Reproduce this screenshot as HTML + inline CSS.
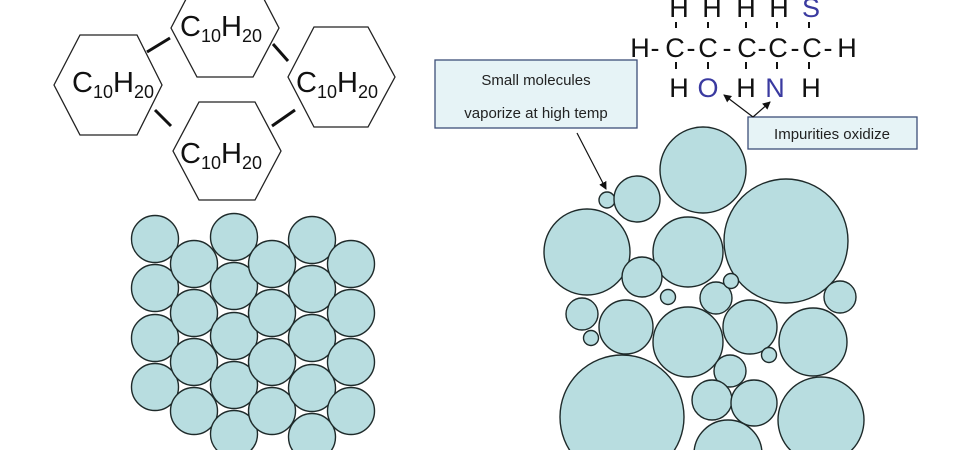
<!DOCTYPE html>
<html><head><meta charset="utf-8"><style>
html,body{margin:0;padding:0;background:#fff;width:980px;height:450px;overflow:hidden;}
svg{display:block;}
text{font-family:"Liberation Sans",sans-serif;}
</style></head><body>
<svg width="980" height="450" viewBox="0 0 980 450" xmlns="http://www.w3.org/2000/svg" style="overflow:hidden">
<defs>
<marker id="ah" markerWidth="8" markerHeight="8" refX="7" refY="4" orient="auto" markerUnits="userSpaceOnUse">
<path d="M0,0 L8,4 L0,8 z" fill="#111"/></marker>
</defs>
<g fill="#fff" stroke="#222" stroke-width="1.3">
<polygon points="54,85 80,35 137,35 162,85 137,135 80,135"/>
<polygon points="171,28 197,-22 253,-22 279,28 253,77 197,77"/>
<polygon points="288,77 314,27 368,27 395,77 368,127 314,127"/>
<polygon points="173,151 199,102 255,102 281,151 255,200 199,200"/>
</g>
<g stroke="#111" stroke-width="3">
<line x1="147" y1="52" x2="170" y2="38"/>
<line x1="273" y1="44" x2="288" y2="61"/>
<line x1="155" y1="110" x2="171" y2="126"/>
<line x1="272" y1="126" x2="295" y2="110"/>
</g>
<g fill="#111" font-size="29">
<text x="72" y="92">C<tspan font-size="18" dy="6">10</tspan><tspan dy="-6">H</tspan><tspan font-size="18" dy="6">20</tspan></text>
<text x="180" y="36">C<tspan font-size="18" dy="6">10</tspan><tspan dy="-6">H</tspan><tspan font-size="18" dy="6">20</tspan></text>
<text x="296" y="92">C<tspan font-size="18" dy="6">10</tspan><tspan dy="-6">H</tspan><tspan font-size="18" dy="6">20</tspan></text>
<text x="180" y="163">C<tspan font-size="18" dy="6">10</tspan><tspan dy="-6">H</tspan><tspan font-size="18" dy="6">20</tspan></text>
</g>
<g fill="#b8dde0" stroke="#1e2a2a" stroke-width="1.4">
<circle cx="155" cy="239" r="23.5"/><circle cx="155" cy="288" r="23.5"/><circle cx="155" cy="338" r="23.5"/><circle cx="155" cy="387" r="23.5"/>
<circle cx="194" cy="264" r="23.5"/><circle cx="194" cy="313" r="23.5"/><circle cx="194" cy="362" r="23.5"/><circle cx="194" cy="411" r="23.5"/>
<circle cx="234" cy="237" r="23.5"/><circle cx="234" cy="286" r="23.5"/><circle cx="234" cy="336" r="23.5"/><circle cx="234" cy="385" r="23.5"/><circle cx="234" cy="434" r="23.5"/>
<circle cx="272" cy="264" r="23.5"/><circle cx="272" cy="313" r="23.5"/><circle cx="272" cy="362" r="23.5"/><circle cx="272" cy="411" r="23.5"/>
<circle cx="312" cy="240" r="23.5"/><circle cx="312" cy="289" r="23.5"/><circle cx="312" cy="338" r="23.5"/><circle cx="312" cy="388" r="23.5"/><circle cx="312" cy="437" r="23.5"/>
<circle cx="351" cy="264" r="23.5"/><circle cx="351" cy="313" r="23.5"/><circle cx="351" cy="362" r="23.5"/><circle cx="351" cy="411" r="23.5"/>
</g>
<g fill="#b8dde0" stroke="#1e2a2a" stroke-width="1.4">
<circle cx="607" cy="200" r="8"/><circle cx="637" cy="199" r="23"/><circle cx="703" cy="170" r="43"/>
<circle cx="587" cy="252" r="43"/><circle cx="688" cy="252" r="35"/><circle cx="786" cy="241" r="62"/>
<circle cx="642" cy="277" r="20"/><circle cx="668" cy="297" r="7.5"/><circle cx="716" cy="298" r="16"/>
<circle cx="731" cy="281" r="7.5"/><circle cx="840" cy="297" r="16"/><circle cx="582" cy="314" r="16"/>
<circle cx="591" cy="338" r="7.5"/><circle cx="626" cy="327" r="27"/><circle cx="688" cy="342" r="35"/>
<circle cx="750" cy="327" r="27"/><circle cx="813" cy="342" r="34"/><circle cx="769" cy="355" r="7.5"/>
<circle cx="730" cy="371" r="16"/><circle cx="622" cy="417" r="62"/><circle cx="712" cy="400" r="20"/>
<circle cx="754" cy="403" r="23"/><circle cx="821" cy="420" r="43"/><circle cx="728" cy="454" r="34"/>
</g>
<g font-size="27" text-anchor="middle" fill="#111">
<text x="679" y="17">H</text><text x="712" y="17">H</text><text x="746" y="17">H</text><text x="779" y="17">H</text><text x="811" y="17" fill="#3a3aa0">S</text>
<text x="640" y="57">H</text><text x="655" y="57">-</text><text x="675" y="57">C</text><text x="691" y="57">-</text><text x="708" y="57">C</text><text x="727" y="57">-</text><text x="747" y="57">C</text><text x="762" y="57">-</text><text x="778" y="57">C</text><text x="795" y="57">-</text><text x="812" y="57">C</text><text x="828" y="57">-</text><text x="847" y="57">H</text>
<text x="679" y="97">H</text><text x="708" y="97" fill="#3a3aa0">O</text><text x="746" y="97">H</text><text x="775" y="97" fill="#3a3aa0">N</text><text x="811" y="97">H</text>
</g>
<g stroke="#111" stroke-width="2">
<line x1="676" y1="22" x2="676" y2="28"/><line x1="708" y1="22" x2="708" y2="28"/><line x1="746" y1="22" x2="746" y2="28"/><line x1="777" y1="22" x2="777" y2="28"/><line x1="809" y1="22" x2="809" y2="28"/>
<line x1="676" y1="62" x2="676" y2="69"/><line x1="708" y1="62" x2="708" y2="69"/><line x1="746" y1="62" x2="746" y2="69"/><line x1="777" y1="62" x2="777" y2="69"/><line x1="809" y1="62" x2="809" y2="69"/>
</g>
<rect x="435" y="60" width="202" height="68" fill="#e6f3f6" stroke="#3c4f78" stroke-width="1.3"/>
<text x="536" y="85" font-size="15" text-anchor="middle" fill="#222">Small molecules</text>
<text x="536" y="118" font-size="15" text-anchor="middle" fill="#222">vaporize at high temp</text>
<rect x="748" y="117" width="169" height="32" fill="#e6f3f6" stroke="#3c4f78" stroke-width="1.3"/>
<text x="832" y="139" font-size="15" text-anchor="middle" fill="#222">Impurities oxidize</text>
<g stroke="#111" stroke-width="1.2" fill="none">
<line x1="577" y1="133" x2="606" y2="189" marker-end="url(#ah)"/>
<line x1="753" y1="117" x2="724" y2="95" marker-end="url(#ah)"/>
<line x1="753" y1="117" x2="770" y2="102" marker-end="url(#ah)"/>
</g>
</svg>
</body></html>
